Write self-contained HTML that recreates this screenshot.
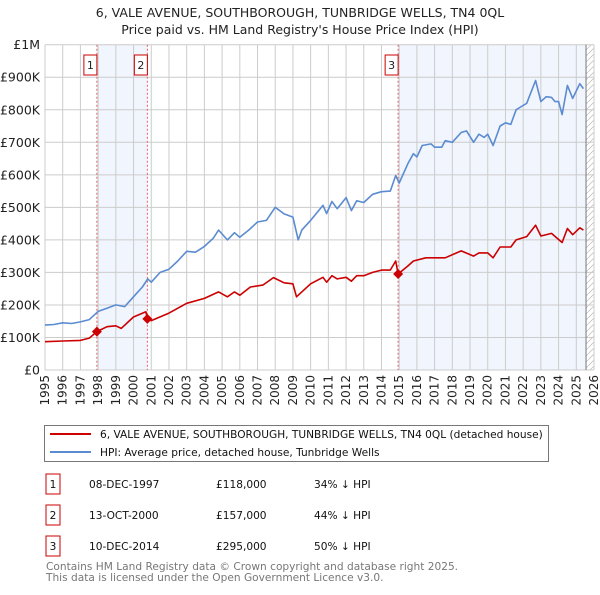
<!DOCTYPE html>
<html><head><meta charset="utf-8"><style>
body{margin:0;background:#fff;}
svg text{font-family:"DejaVu Sans","Liberation Sans",sans-serif;}
</style></head><body>
<svg id="chart" width="600" height="590" viewBox="0 0 600 590" xmlns="http://www.w3.org/2000/svg">
<text x="300" y="17" font-size="12.5" text-anchor="middle" fill="#222">6, VALE AVENUE, SOUTHBOROUGH, TUNBRIDGE WELLS, TN4 0QL</text>
<text x="300" y="34" font-size="12.5" text-anchor="middle" fill="#222">Price paid vs. HM Land Registry's House Price Index (HPI)</text>
<g id="plot"></g>
<g>
<rect x="44.5" y="425.5" width="504" height="36" fill="#fff" stroke="#777"/>
<line x1="50" y1="434" x2="91" y2="434" stroke="#cc0000" stroke-width="2"/>
<text x="100" y="438" font-size="10.6" fill="#111">6, VALE AVENUE, SOUTHBOROUGH, TUNBRIDGE WELLS, TN4 0QL (detached house)</text>
<line x1="50" y1="452" x2="91" y2="452" stroke="#5b8bd0" stroke-width="2"/>
<text x="100" y="456" font-size="10.6" fill="#111">HPI: Average price, detached house, Tunbridge Wells</text>
</g>
<g font-size="10.6" fill="#111">
<rect x="46" y="474" width="14" height="20" fill="#fff" stroke="#cc0000"/><text x="53" y="488" text-anchor="middle">1</text>
<text x="89" y="488">08-DEC-1997</text><text x="216" y="488">£118,000</text><text x="314" y="488">34% ↓ HPI</text>
<rect x="46" y="505" width="14" height="20" fill="#fff" stroke="#cc0000"/><text x="53" y="519" text-anchor="middle">2</text>
<text x="89" y="519">13-OCT-2000</text><text x="216" y="519">£157,000</text><text x="314" y="519">44% ↓ HPI</text>
<rect x="46" y="536" width="14" height="20" fill="#fff" stroke="#cc0000"/><text x="53" y="550" text-anchor="middle">3</text>
<text x="89" y="550">10-DEC-2014</text><text x="216" y="550">£295,000</text><text x="314" y="550">50% ↓ HPI</text>
</g>
<text x="46" y="570" font-size="10.6" fill="#777">Contains HM Land Registry data © Crown copyright and database right 2025.</text>
<text x="46" y="581" font-size="10.6" fill="#777">This data is licensed under the Open Government Licence v3.0.</text>
</svg>
<script>
const hpiYears=[1995,1995.5,1996,1996.5,1997,1997.5,1998,1998.5,1999,1999.5,2000,2000.5,2000.8,2001,2001.5,2002,2002.5,2003,2003.5,2004,2004.5,2004.8,2005.3,2005.7,2006,2006.5,2007,2007.5,2008,2008.5,2009,2009.3,2009.5,2010,2010.7,2010.9,2011.2,2011.5,2012,2012.3,2012.6,2013,2013.5,2014,2014.5,2014.8,2015,2015.5,2015.8,2016,2016.3,2016.8,2017,2017.4,2017.6,2018,2018.5,2018.8,2019.2,2019.5,2019.8,2020,2020.3,2020.7,2021,2021.3,2021.6,2021.9,2022.2,2022.7,2023,2023.3,2023.6,2023.8,2024,2024.2,2024.5,2024.8,2025.2,2025.4];
const hpiVals=[138,140,145,143,148,155,180,190,200,195,225,255,280,270,300,310,335,365,362,380,405,430,400,422,408,430,455,460,500,480,470,400,430,460,506,481,518,496,530,490,520,515,540,548,550,598,575,635,665,655,690,695,685,685,705,700,730,735,700,725,715,725,690,750,760,755,800,810,820,890,825,840,838,825,825,785,875,835,880,865];
const ppYears=[1995,1996,1997,1997.5,1997.93,1998.5,1999,1999.3,2000,2000.7,2000.78,2001,2002,2003,2004,2004.8,2005.3,2005.7,2006,2006.6,2007.3,2007.9,2008.5,2009,2009.2,2009.5,2010,2010.7,2010.9,2011.2,2011.5,2012,2012.3,2012.6,2013,2013.5,2014,2014.5,2014.8,2014.94,2015.5,2015.8,2016.5,2017,2017.6,2018.5,2019.2,2019.5,2020,2020.3,2020.7,2021.3,2021.6,2022.2,2022.7,2023,2023.6,2024.2,2024.5,2024.8,2025.2,2025.4];
const ppVals=[87,89,91,98,118,133,136,128,163,179,157,152,175,205,220,240,225,240,230,255,261,284,268,265,225,240,265,285,270,290,280,285,273,290,290,300,307,307,335,295,320,335,345,345,345,366,350,360,360,345,378,378,400,410,445,412,420,392,435,416,437,430];
const saleYears=[1997.93,2000.78,2014.94];
const saleVals=[118,157,295];
const saleLabels=["1","2","3"];
const yTicks=[0,100,200,300,400,500,600,700,800,900,1000];
const yTickLabels=["£0","£100K","£200K","£300K","£400K","£500K","£600K","£700K","£800K","£900K","£1M"];
const xTicks=[];for(let y=1995;y<=2026;y++)xTicks.push(y);

const X0=45,X1=594,Y0=370,Y1=44.7;
const xs=y=>X0+(y-1995)/(2026-1995)*(X1-X0);
const ys=v=>Y0-v/1000*(Y0-Y1);
const NS="http://www.w3.org/2000/svg";
const g=document.getElementById('plot');
function mk(t,a,p){const e=document.createElementNS(NS,t);for(const k in a)e.setAttribute(k,a[k]);(p||g).appendChild(e);return e;}
const endY=2025.55;
let s=mk('rect',{x:xs(saleYears[0]),y:Y1,width:xs(saleYears[1])-xs(saleYears[0]),height:Y0-Y1,fill:'#eef3fc',opacity:0.8});


s=mk('rect',{x:xs(saleYears[2]),y:Y1,width:xs(endY)-xs(saleYears[2]),height:Y0-Y1,fill:'#eef3fc',opacity:0.8});


const defs=mk('defs',{});
const pat=mk('pattern',{id:'hatch',width:6,height:6,patternUnits:'userSpaceOnUse'},defs);
mk('path',{d:'M0,6 L6,0',stroke:'#bbb','stroke-width':0.7},pat);
s=mk('rect',{x:xs(endY),y:Y1,width:X1-xs(endY),height:Y0-Y1,fill:'url(#hatch)'});


xTicks.forEach(t=>{const l=mk('line',{x1:xs(t),x2:xs(t),y1:Y1,y2:Y0,stroke:'#ccc','stroke-width':1});


const tx=mk('text',{x:0,y:0,'font-size':12,fill:'#222','text-anchor':'end',transform:`translate(${xs(t)+4},${Y0+5}) rotate(-90)`});tx.textContent=t;

});
yTicks.forEach((t,i)=>{const l=mk('line',{x1:X0,x2:X1,y1:ys(t),y2:ys(t),stroke:'#ccc','stroke-width':1});


const tx=mk('text',{x:40,y:ys(t)+4.5,'font-size':12.5,fill:'#222','text-anchor':'end'});tx.textContent=yTickLabels[i];

});
mk('line',{x1:xs(endY),x2:xs(endY),y1:Y1,y2:Y0,stroke:'#777','stroke-width':1});
saleYears.forEach((y,i)=>{const l=mk('line',{x1:xs(y),x2:xs(y),y1:Y1,y2:Y0,stroke:'#e06060','stroke-width':1,'stroke-dasharray':'2,2'});


const r=mk('rect',{x:xs(y)-13,y:55,width:13,height:20,fill:'#fff',stroke:'#cc0000'});


const t=mk('text',{x:xs(y)-6.5,y:69,'font-size':11,'text-anchor':'middle',fill:'#222'});t.textContent=saleLabels[i];});
function path(xa,va){return xa.map((x,i)=>(i?'L':'M')+xs(x).toFixed(1)+','+ys(va[i]).toFixed(1)).join('');}
let p=mk('path',{d:path(hpiYears,hpiVals),fill:'none',stroke:'#5b8bd0','stroke-width':1.6,'stroke-linejoin':'round'});


p=mk('path',{d:path(ppYears,ppVals),fill:'none',stroke:'#cc0000','stroke-width':1.6,'stroke-linejoin':'round'});


saleYears.forEach((y,i)=>{const cx=xs(y),cy=ys(saleVals[i]);
const d=mk('path',{d:`M${cx},${cy-5}L${cx+5},${cy}L${cx},${cy+5}L${cx-5},${cy}Z`,fill:'#cc0000'});

});
</script>
</body></html>
